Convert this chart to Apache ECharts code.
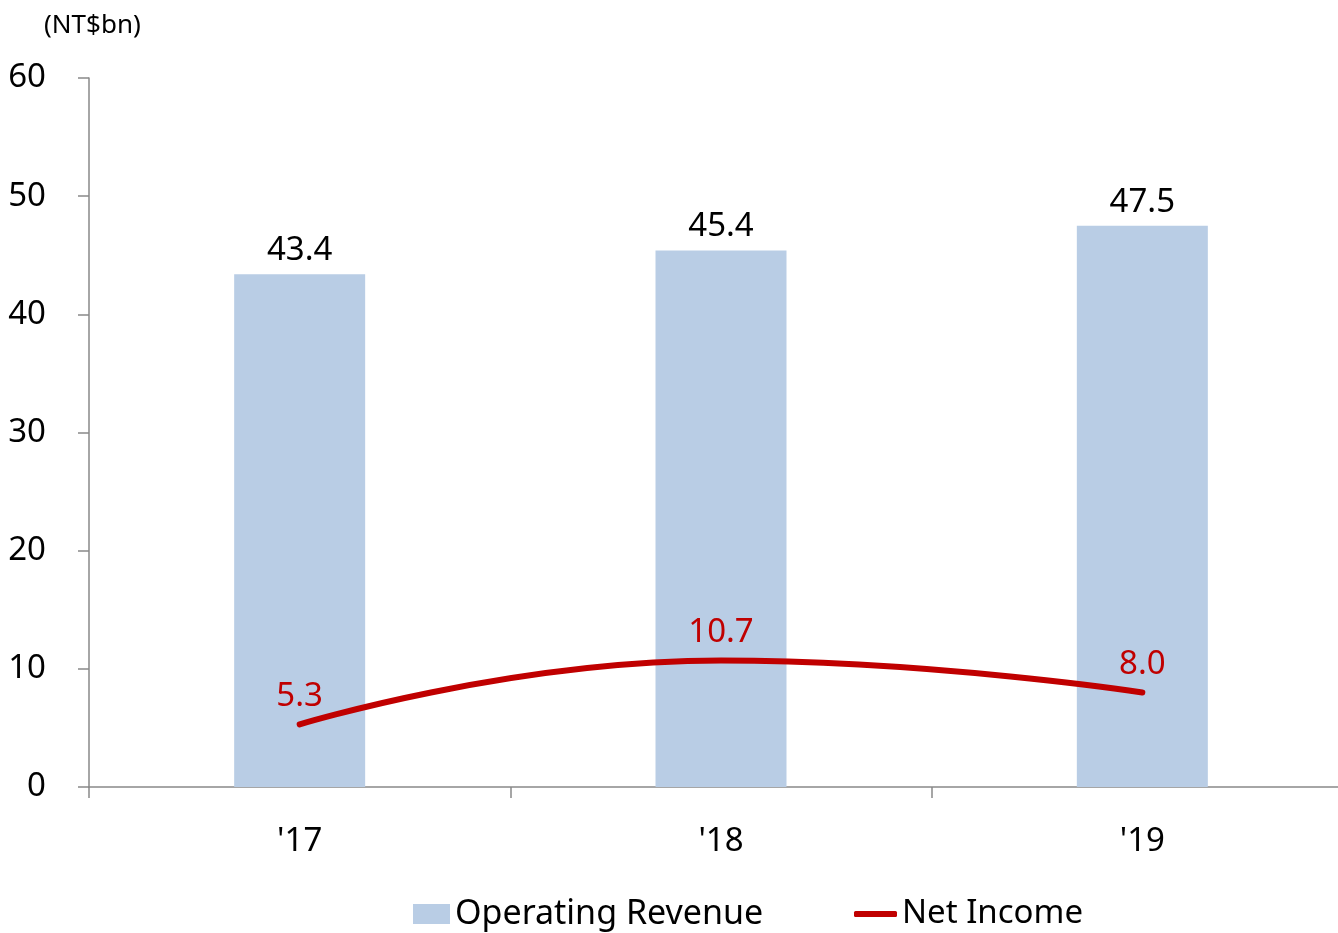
<!DOCTYPE html>
<html>
<head>
<meta charset="utf-8">
<script src="https://cdn.jsdelivr.net/npm/echarts@6/dist/echarts.min.js"></script>
<style>
  html, body { margin: 0; padding: 0; background: #fff; overflow: hidden; }
  #chart { width: 1360px; height: 933px; }
</style>
</head>
<body>
<div id="chart"></div>
<script>
const categories = ["'17", "'18", "'19"]
const operatingRevenue = [43.4, 45.4, 47.5]
const netIncome = [5.3, 10.7, 8.0]
const yTicks = [0, 10, 20, 30, 40, 50, 60]

const numFont = '"Noto Sans", "Open Sans", sans-serif'
const textFont = '"Noto Sans", "Open Sans", sans-serif'
const axisColor = '#898989'

const chart = echarts.init(document.getElementById('chart'))

const option = {
  animation: false,
  title: {
    text: '(NT$bn)',
    left: 44,
    top: 13,
    padding: 0,
    textStyle: { fontFamily: textFont, fontSize: 26, fontWeight: 'normal', color: '#000' }
  },
  legend: [
    {
      data: ['Operating Revenue'],
      left: 413,
      top: 897,
      padding: 0,
      icon: 'rect',
      itemWidth: 37,
      itemHeight: 20,
      textStyle: { fontFamily: textFont, fontSize: 34, lineHeight: 34, color: '#000' }
    },
    {
      data: ['Net Income'],
      left: 854,
      top: 897,
      padding: 0,
      icon: 'roundRect',
      itemWidth: 43,
      itemHeight: 6,
      itemStyle: { color: '#C00000' },
      textStyle: { fontFamily: textFont, fontSize: 33, lineHeight: 34, color: '#000' }
    }
  ],
  grid: {
    left: 89,
    top: 78,
    width: 1264,
    bottom: 146,
    containLabel: false
  },
  xAxis: {
    type: 'category',
    data: categories,
    axisLine: { lineStyle: { color: axisColor, width: 1.5 } },
    axisTick: { show: true, length: 11, lineStyle: { color: axisColor, width: 1.5 } },
    axisLabel: { color: '#000', fontFamily: numFont, fontSize: 33, margin: 38 },
    splitLine: { show: false }
  },
  yAxis: {
    type: 'value',
    min: yTicks[0],
    max: yTicks[yTicks.length - 1],
    interval: 10,
    axisLine: { show: true, lineStyle: { color: axisColor, width: 1.5 } },
    axisTick: { show: true, length: 11, lineStyle: { color: axisColor, width: 1.5 } },
    axisLabel: { color: '#000', fontFamily: numFont, fontSize: 33, margin: 43, padding: [4, 0, 0, 0] },
    splitLine: { show: false }
  },
  series: [
    {
      name: 'Operating Revenue',
      type: 'bar',
      data: operatingRevenue,
      barWidth: 131,
      itemStyle: { color: '#B9CDE5' },
      label: {
        show: true,
        position: 'top',
        distance: 7,
        color: '#000',
        fontFamily: numFont,
        fontSize: 33,
        formatter: p => p.value.toFixed(1)
      },
      z: 2
    },
    {
      name: 'Net Income',
      type: 'line',
      data: netIncome,
      smooth: 0.5,
      symbol: 'circle',
      symbolSize: 0.1,
      itemStyle: { color: '#C00000' },
      lineStyle: { color: '#C00000', width: 6, cap: 'round' },
      label: {
        show: true,
        position: 'top',
        distance: 11,
        color: '#C00000',
        fontFamily: numFont,
        fontSize: 33,
        formatter: p => p.value.toFixed(1)
      },
      z: 3
    }
  ]
}

chart.setOption(option)
</script>
</body>
</html>
